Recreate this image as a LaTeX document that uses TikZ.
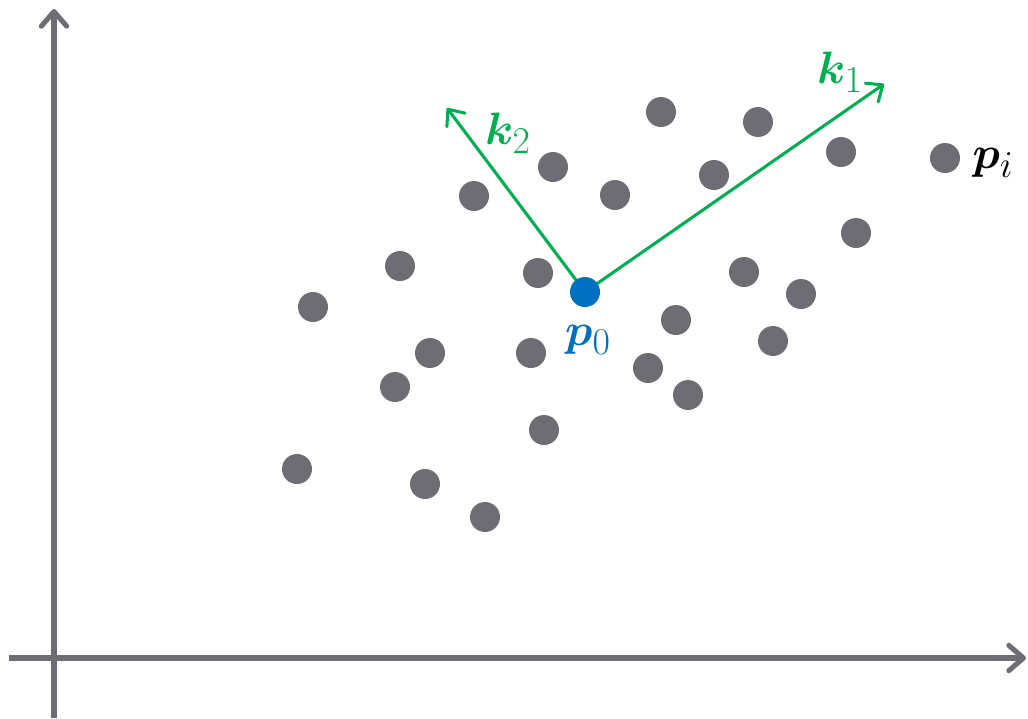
\documentclass[tikz,border=0pt]{standalone}
\usepackage{graphicx}
\usepackage{amsmath,bm}
\usetikzlibrary{arrows.meta}
\definecolor{dotgray}{RGB}{110,109,115}
\definecolor{kgreen}{RGB}{0,176,80}
\definecolor{pblue}{RGB}{0,112,192}
\newcommand{\biglbl}[1]{\scalebox{1.37}{\Huge$#1$}}
\tikzset{
  pt/.style={circle,fill=dotgray,inner sep=0pt,minimum size=22.5pt},
  axis/.style={draw=dotgray,line width=3.8pt,-{Straight Barb[length=11pt,width=19pt,line cap=round,line join=round]}},
  vec/.style={draw=kgreen,line width=2.3pt,-{Straight Barb[length=10pt,width=17pt,line cap=round,line join=round]}},
  lbl/.style={inner sep=0pt}
}
\begin{document}
\begin{tikzpicture}[x=0.75pt,y=-0.75pt]
\useasboundingbox (0,0) rectangle (1028,718);
% axes
\coordinate (ybot) at (54,718);
\coordinate (ytop) at (54,9);
\coordinate (xl) at (9,658);
\coordinate (xr) at (1026,658);
\draw[axis] (ybot) -- (ytop);
\draw[axis] (xl) -- (xr);
% points
\foreach \x/\y [count=\i] in {661/112,758/122,841/152,553/167,714/175,615/195,474/196,856/233,400/266,538/273,744/272,801/294,313/307,676/320,773/341,430/353,531/353,395/387,648/368,688/395,544/430,297/469,425/484,485/517}
  \node[pt] (q\i) at (\x,\y) {};
\node[pt] (pi) at (945,158) {};
% vectors
\coordinate (c0) at (585,292);
\coordinate (k1end) at (884,84);
\coordinate (k2end) at (447,108);
\draw[vec] (c0) -- (k1end);
\draw[vec] (c0) -- (k2end);
\node[pt,fill=pblue] (p0) at (c0) {};
% labels
\node[lbl,text=kgreen] (k1) at (840,72) {\biglbl{\bm{k}_1}};
\node[lbl,text=kgreen] (k2) at (508,133) {\biglbl{\bm{k}_2}};
\node[lbl,text=pblue] (p0l) at (588,340) {\biglbl{\bm{p}_0}};
\node[lbl,text=black] (pil) at (993,163) {\biglbl{\bm{p}_i}};
\end{tikzpicture}
\end{document}
